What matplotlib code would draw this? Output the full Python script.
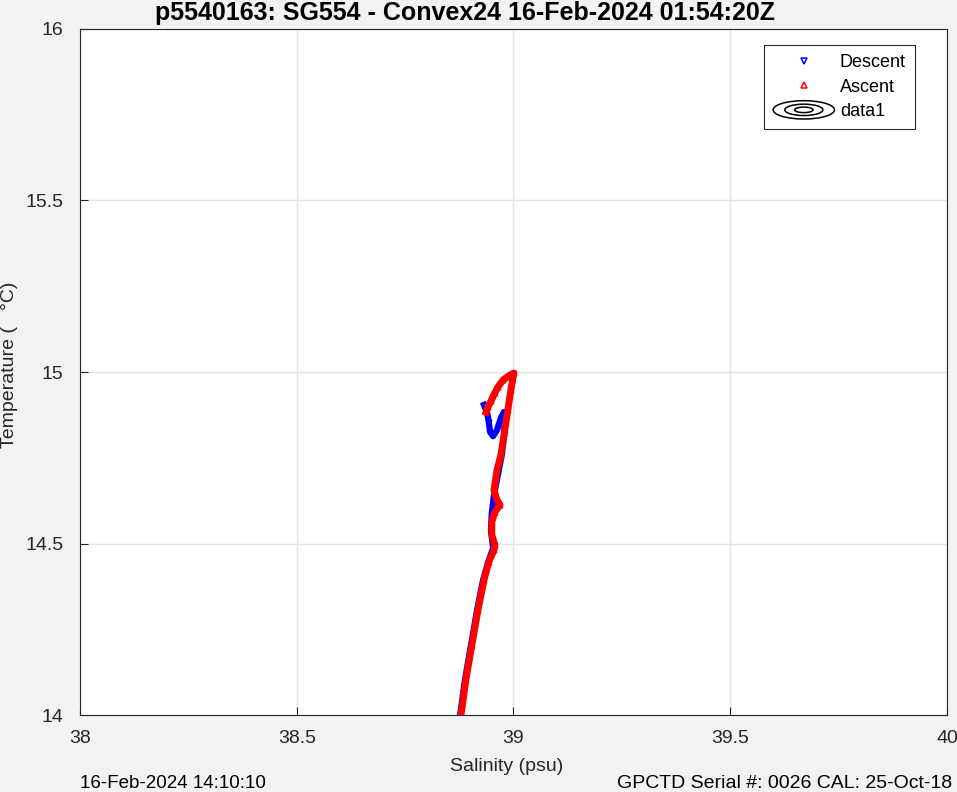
import matplotlib
matplotlib.use("Agg")
import matplotlib.pyplot as plt
from matplotlib.patches import Ellipse
from matplotlib.legend_handler import HandlerBase

plt.rcParams['font.family'] = ['Liberation Sans', 'DejaVu Sans']

# descent profile (blue)
desc_sal = [38.932, 38.939, 38.943, 38.946, 38.953, 38.962, 38.971, 38.978, 38.980,
            38.978, 38.973, 38.964, 38.955, 38.950, 38.948, 38.953, 38.941, 38.930,
            38.916, 38.902, 38.888, 38.877]
desc_temp = [14.904, 14.883, 14.854, 14.825, 14.813, 14.831, 14.866, 14.883, 14.860,
             14.810, 14.758, 14.700, 14.641, 14.589, 14.539, 14.487, 14.443, 14.394,
             14.306, 14.204, 14.102, 14.000]

# ascent profile (red)
asc_sal = [38.879, 38.890, 38.904, 38.918, 38.932, 38.943, 38.955, 38.957, 38.950,
           38.950, 38.957, 38.969, 38.962, 38.955, 38.962, 38.971, 38.980, 38.987,
           38.994, 39.001, 38.992, 38.976, 38.964, 38.957, 38.948, 38.941, 38.937]
asc_temp = [14.000, 14.102, 14.204, 14.306, 14.394, 14.446, 14.481, 14.496, 14.525,
            14.563, 14.592, 14.612, 14.627, 14.656, 14.714, 14.758, 14.831, 14.889,
            14.948, 14.997, 14.991, 14.977, 14.956, 14.939, 14.915, 14.898, 14.883]

xticks = [38, 38.5, 39, 39.5, 40]
yticks = [14, 14.5, 15, 15.5, 16]
xticklabels = ['38', '38.5', '39', '39.5', '40']
yticklabels = ['14', '14.5', '15', '15.5', '16']


class ContourHandler(HandlerBase):
    # three nested ellipses, like a contour icon
    def create_artists(self, legend, orig_handle, xdescent, ydescent,
                       width, height, fontsize, trans):
        cx = width / 2 - xdescent
        cy = height / 2 - ydescent
        arts = []
        for f in (1.0, 0.62, 0.3):
            e = Ellipse((cx, cy), width * 1.0 * f, height * 1.45 * f,
                        facecolor='none', edgecolor='black', lw=1.1,
                        transform=trans)
            arts.append(e)
        return arts


fig = plt.figure(figsize=(9.57, 7.92), dpi=100, facecolor='#f2f2f2')
ax = fig.add_axes([0.0836, 0.0972, 0.9059, 0.8662])
ax.set_facecolor('white')

ax.plot(desc_sal, desc_temp, color='blue', lw=4.5, marker='v', ms=3.5,
        mfc='none', mec='blue', mew=0.8, label='Descent', zorder=3)
ax.plot(asc_sal, asc_temp, color='red', lw=5.0, marker='^', ms=3.5,
        mfc='none', mec='red', mew=0.8, label='Ascent', zorder=4)

ax.set_xlim(38, 40)
ax.set_ylim(14, 16)
ax.set_xticks(xticks)
ax.set_yticks(yticks)
ax.set_xticklabels(xticklabels)
ax.set_yticklabels(yticklabels)
ax.tick_params(direction='in', length=6, labelsize=14, colors='#262626',
               top=False, right=False)
ax.tick_params(axis='x', pad=11)
ax.tick_params(axis='y', pad=12)
ax.grid(True, color='#e3e3e3', lw=1.0)
ax.set_axisbelow(True)
for s in ax.spines.values():
    s.set_color('#262626')
    s.set_linewidth(0.8)

fig.text(465 / 957, 1 - 13 / 792, 'p5540163: SG554 - Convex24 16-Feb-2024 01:54:20Z',
         fontsize=18, fontweight='bold', ha='center', va='center')
ax.set_xlabel('Salinity (psu)', fontsize=14, color='#262626')
ax.xaxis.set_label_coords(0.4925, -0.062)
ax.set_ylabel('Temperature (   °C)', fontsize=14, color='#262626')
ax.yaxis.set_label_coords(-0.071, 0.51)

h_desc = plt.Line2D([], [], ls='none', marker='v', ms=4.5, mfc='none', mec='blue', mew=1.1)
h_asc = plt.Line2D([], [], ls='none', marker='^', ms=4.5, mfc='none', mec='red', mew=1.1)
h_cont = Ellipse((0, 0), 1, 1)
leg = ax.legend([h_desc, h_asc, h_cont], ['Descent', 'Ascent', 'data1'],
                handler_map={Ellipse: ContourHandler()},
                loc='upper right', bbox_to_anchor=(0.9631, 0.9767),
                fontsize=13, fancybox=False, framealpha=1, edgecolor='#262626',
                handlelength=3.4, handletextpad=0.3, borderpad=0.5,
                labelspacing=0.42, borderaxespad=0)
leg.get_frame().set_linewidth(0.8)

fig.text(80 / 957, 1 - 783 / 792, '16-Feb-2024 14:10:10', fontsize=13.5,
         ha='left', va='center')
fig.text(952 / 957, 1 - 783 / 792, 'GPCTD Serial #: 0026 CAL: 25-Oct-18',
         fontsize=14, ha='right', va='center')

fig.savefig('out.png', dpi=100, facecolor=fig.get_facecolor())
